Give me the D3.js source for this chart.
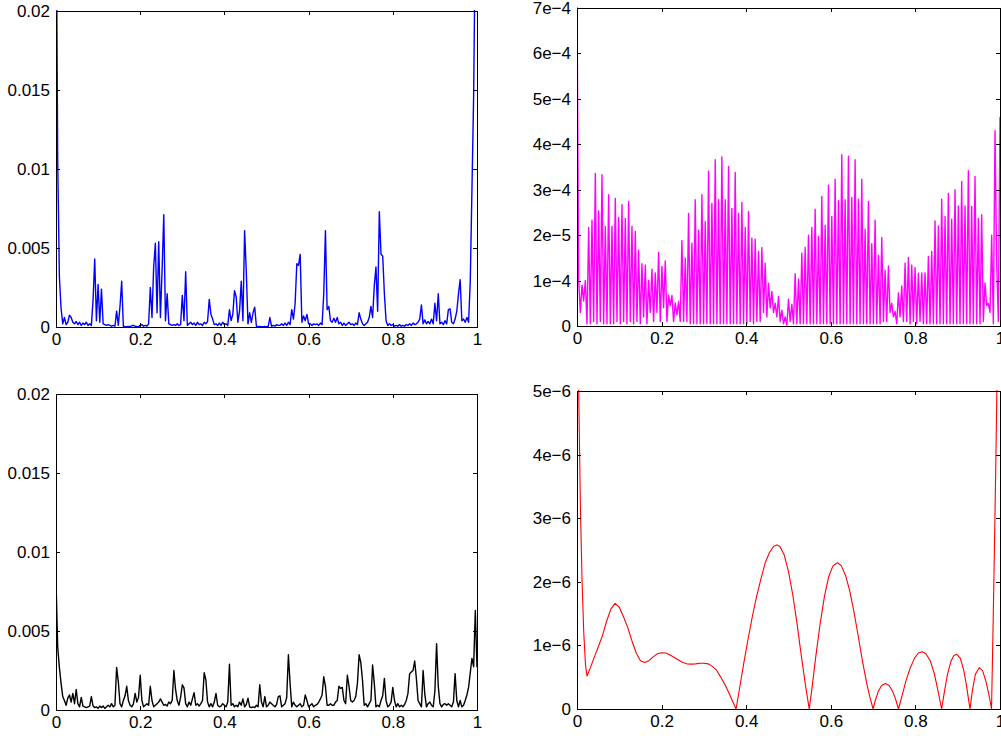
<!DOCTYPE html>
<html>
<head>
<meta charset="utf-8">
<script src="https://cdn.jsdelivr.net/npm/d3@7"></script>
<style>
  html, body { margin: 0; padding: 0; background: #fff; }
  svg { display: block; }
</style>
</head>
<body>
<svg id="fig" width="1001" height="736"></svg>
<script>
// ---- data ----
const xTickValues = [0, 0.2, 0.4, 0.6, 0.8, 1];
const xTickLabels = ["0", "0.2", "0.4", "0.6", "0.8", "1"];

const blueTickValues = [0, 0.005, 0.01, 0.015, 0.02];
const blueTickLabels = ["0", "0.005", "0.01", "0.015", "0.02"];
const blackTickValues = [0, 0.005, 0.01, 0.015, 0.02];
const blackTickLabels = ["0", "0.005", "0.01", "0.015", "0.02"];
const magentaTickValues = [0, 1e-4, 2e-4, 3e-4, 4e-4, 5e-4, 6e-4, 7e-4];
const magentaTickLabels = ["0", "1e\u22124", "2e\u22125", "3e\u22124", "4e\u22124", "5e\u22124", "6e\u22124", "7e\u22124"];
const redTickValues = [0, 1e-6, 2e-6, 3e-6, 4e-6, 5e-6];
const redTickLabels = ["0", "1e\u22126", "2e\u22126", "3e\u22126", "4e\u22126", "5e\u22126"];

// top-left, units of 1e-3, evenly spaced on [0, 1]
const blueVals = [
  30, 10.6, 3.2, 1.2, 0.2, 0.6, 0.15, 0.3, 0.75, 0.6,
  0.3, 0.2, 0.35, 0.15, 0.3, 0.1, 0.25, 0.15, 0.3, 0.1,
  0.2, 0.1, 1.7, 4.3, 0.4, 2.7, 0.3, 2.4, 0.2, 0.15,
  0.1, 0.15, 0.1, 0.05, 0.1, 0.05, 1.0, 0.1, 1.3, 2.9,
  0.05, 0.03, 0.02, 0.03, 0.02, 0.08, 0.1, 0.05, 0.03, 0.02,
  0.1, 0.15, 0.05, 0.1, 0.05, 0.2, 2.5, 0.6, 3.8, 5.3,
  0.9, 5.4, 0.6, 3.6, 7.1, 0.4, 2.1, 0.2, 0.15, 0.1,
  0.15, 0.1, 0.2, 0.1, 0.15, 2.0, 0.4, 3.5, 0.1, 0.2,
  0.3, 0.15, 0.25, 0.1, 0.3, 0.15, 0.2, 0.1, 0.3, 0.2,
  0.35, 1.75, 0.8, 0.5, 0.15, 0.2, 0.1, 0.25, 0.1, 0.3,
  0.15, 0.2, 0.1, 1.1, 0.4, 0.8, 2.3, 1.9, 0.3, 1.0,
  2.9, 0.4, 6.1, 3.5, 0.2, 0.9, 0.3, 0.9, 1.25, 0.05,
  0.02, 0.03, 0.02, 0.02, 0.03, 0.02, 0.03, 0.6, 0.05, 0.1,
  0.05, 0.15, 0.1, 0.1, 0.2, 0.1, 0.25, 0.1, 0.3, 0.15,
  1.1, 0.5, 1.5, 4.0, 3.9, 4.6, 0.3, 0.7, 0.4, 0.8,
  0.2, 0.2, 0.1, 0.2, 0.15, 0.2, 0.1, 0.25, 0.15, 2.1,
  6.1, 1.1, 1.3, 0.4, 0.3, 0.55, 0.3, 0.6, 0.2, 0.3,
  0.1, 0.25, 0.1, 0.2, 0.3, 0.15, 0.2, 0.1, 0.25, 0.15,
  0.9, 0.5, 0.2, 0.1, 0.2, 0.3, 0.6, 1.3, 0.6, 2.6,
  3.8, 1.0, 7.3, 4.6, 4.5, 2.1, 0.4, 0.1, 0.2, 0.1,
  0.15, 0.05, 0.1, 0.05, 0.15, 0.05, 0.1, 0.05, 0.15, 0.1,
  0.2, 0.1, 0.25, 0.15, 0.2, 0.3, 0.5, 1.4, 0.2, 0.45,
  0.2, 0.35, 0.2, 0.5, 0.2, 1.5, 0.4, 2.1, 0.2, 0.3,
  0.15, 0.4, 0.2, 1.1, 1.15, 0.3, 0.2, 0.5, 1.0, 2.1,
  3.0, 0.4, 0.5, 0.3, 0.6, 0.3, 2.9, 8.7, 14.6, 25,
  30
];

// top-right, units of 1e-4, evenly spaced on [0, 1]
const magentaVals = [
  7.2, 1.0, 0.3, 0.9, 0.55, 1.0, 0.05, 2.17, 0.05, 2.33,
  0.1, 3.36, 0.05, 2.53, 0.1, 3.33, 0.05, 2.19, 0.05, 2.89,
  0.05, 2.19, 0.05, 2.81, 0.1, 2.39, 0.05, 2.67, 0.1, 2.37,
  0.05, 2.74, 0.1, 2.19, 0.05, 2.08, 0.1, 1.67, 0.05, 1.37,
  0.2, 1.34, 0.05, 1.0, 0.3, 1.25, 0.1, 1.17, 0.3, 1.62,
  0.1, 1.31, 0.4, 1.43, 0.1, 0.68, 0.45, 0.67, 0.1, 0.51,
  0.25, 0.54, 0.1, 1.88, 0.1, 1.49, 0.1, 2.48, 0.05, 1.82,
  0.05, 2.78, 0.05, 2.11, 0.05, 2.89, 0.05, 2.3, 0.05, 3.41,
  0.05, 2.7, 0.05, 3.66, 0.05, 2.78, 0.05, 3.72, 0.05, 2.78,
  0.05, 3.51, 0.05, 2.59, 0.05, 3.38, 0.05, 2.48, 0.05, 2.72,
  0.05, 2.17, 0.05, 2.52, 0.1, 1.93, 0.05, 1.91, 0.1, 1.64,
  0.1, 1.73, 0.3, 1.38, 0.2, 0.94, 0.4, 0.76, 0.3, 0.5,
  0.2, 0.65, 0.1, 0.35, 0.05, 0.2, 0.02, 0.59, 0.1, 0.48,
  0.05, 1.15, 0.05, 1.03, 0.05, 1.6, 0.05, 1.73, 0.05, 2.0,
  0.05, 2.17, 0.05, 2.57, 0.05, 1.97, 0.05, 2.85, 0.05, 2.22,
  0.05, 3.1, 0.05, 2.41, 0.05, 3.23, 0.05, 2.76, 0.05, 3.77,
  0.05, 2.78, 0.05, 3.74, 0.05, 2.83, 0.05, 3.66, 0.05, 2.79,
  0.05, 3.23, 0.05, 2.13, 0.05, 2.74, 0.05, 1.81, 0.05, 2.33,
  0.05, 1.56, 0.05, 1.95, 0.1, 1.23, 0.1, 1.32, 0.3, 0.5,
  0.2, 0.32, 0.05, 0.73, 0.2, 0.88, 0.1, 1.38, 0.1, 1.51,
  0.05, 1.34, 0.1, 1.29, 0.05, 1.16, 0.1, 1.17, 0.05, 1.17,
  0.05, 1.53, 0.05, 1.64, 0.05, 2.31, 0.05, 2.2, 0.05, 2.79,
  0.05, 2.41, 0.05, 2.92, 0.05, 2.35, 0.05, 3.0, 0.05, 2.64,
  0.05, 3.18, 0.05, 2.64, 0.05, 3.42, 0.05, 2.63, 0.05, 3.29,
  0.05, 2.37, 0.05, 2.45, 0.1, 0.95, 0.45, 0.5, 0.3, 2.0,
  0.05, 4.3, 1.4, 0.1, 4.6
];

// bottom-left, units of 1e-3, evenly spaced on [0, 1]
const blackVals = [
  8.2, 4.0, 2.7, 1.7, 0.85, 0.6, 0.3, 0.75, 0.95, 0.5,
  1.05, 0.4, 1.3, 0.4, 0.2, 0.8, 0.25, 0.2, 0.15, 0.2,
  0.25, 0.85, 0.25, 0.15, 0.2, 0.1, 0.25, 0.15, 0.25, 0.1,
  0.2, 0.3, 0.2, 0.4, 0.2, 0.3, 2.7, 1.8, 0.4, 0.2,
  0.6, 0.9, 1.5, 0.6, 0.3, 0.2, 0.4, 1.05, 0.5, 0.8,
  2.2, 0.6, 0.2, 0.3, 0.4, 0.3, 1.5, 0.6, 0.2, 0.3,
  0.4, 0.5, 0.7, 0.5, 0.3, 0.35, 0.25, 0.5, 0.4, 0.6,
  2.5, 1.3, 0.6, 0.3, 0.8, 1.6, 1.4, 0.4, 0.2, 0.5,
  0.3, 0.7, 1.1, 0.3, 0.4, 0.25, 0.4, 0.6, 2.36, 1.9,
  0.5, 0.2, 0.4, 0.2, 0.5, 1.05, 0.3, 0.2, 0.25, 0.4,
  0.3, 0.2, 0.5, 2.9, 0.3, 0.4, 0.2, 0.3, 0.2, 0.5,
  0.3, 0.7, 0.2, 0.35, 0.75, 0.2, 0.15, 0.2, 0.15, 0.3,
  0.2, 1.6, 0.5, 0.2, 0.85, 0.2, 0.3, 0.5, 0.4, 0.3,
  0.2, 0.35, 0.85, 0.9, 0.2, 0.3, 0.4, 0.8, 3.5, 1.7,
  0.2, 0.5, 0.3, 0.2, 0.3, 0.4, 0.2, 0.3, 0.95, 0.6,
  0.2, 0.3, 0.4, 0.2, 0.3, 0.35, 0.5, 0.7, 0.95, 2.1,
  1.5, 0.3, 0.3, 0.4, 0.3, 0.3, 0.5, 0.6, 1.5, 1.37,
  1.43, 0.6, 0.4, 2.2, 1.5, 0.6, 0.5, 0.6, 0.85, 1.7,
  3.5, 3.0, 1.9, 0.3, 0.4, 0.2, 0.4, 0.6, 2.85, 1.7,
  0.2, 0.3, 0.2, 0.6, 0.9, 2.0, 0.6, 0.2, 0.3, 0.5,
  1.43, 0.6, 0.2, 0.4, 0.2, 0.3, 0.2, 0.35, 0.6, 1.05,
  2.3, 2.4, 2.5, 3.1, 2.0, 0.6, 0.4, 0.2, 2.5, 1.0,
  0.2, 0.4, 0.5, 0.3, 0.2, 1.2, 4.2, 1.5, 0.4, 0.2,
  0.35, 0.4, 0.3, 0.4, 0.3, 0.2, 0.5, 2.3, 0.6, 0.2,
  0.6, 0.2, 0.3, 0.6, 0.95, 1.43, 2.36, 3.27, 2.74, 6.3,
  2.7
];

// bottom-right, units of 1e-6
const redX = [
  0, 0.004, 0.008, 0.012, 0.016, 0.02, 0.0236, 0.03, 0.04, 0.05,
  0.06, 0.07, 0.08, 0.09, 0.1, 0.11, 0.12, 0.13, 0.14, 0.15,
  0.16, 0.17, 0.18, 0.19, 0.2, 0.21, 0.22, 0.23, 0.24, 0.25,
  0.26, 0.27, 0.28, 0.29, 0.3, 0.31, 0.32, 0.33, 0.34, 0.35,
  0.36, 0.37, 0.376,
  0.385, 0.395, 0.405, 0.415, 0.425, 0.435, 0.445, 0.455, 0.465, 0.473,
  0.48, 0.49, 0.5, 0.51, 0.52, 0.53, 0.54, 0.549,
  0.555, 0.565, 0.575, 0.585, 0.595, 0.605, 0.616, 0.625, 0.635, 0.645,
  0.655, 0.665, 0.675, 0.685, 0.692, 0.7,
  0.705, 0.712, 0.72, 0.729, 0.738, 0.746, 0.753, 0.76,
  0.768, 0.778, 0.788, 0.798, 0.807, 0.816, 0.825, 0.835, 0.845, 0.853, 0.862,
  0.868, 0.876, 0.884, 0.891, 0.898, 0.906, 0.914, 0.921, 0.929,
  0.935, 0.942, 0.951, 0.959, 0.967, 0.974, 0.98,
  0.985, 0.99, 0.993, 1.0
];
const redY = [
  7.0, 5.0, 3.2, 2.0, 1.2, 0.7, 0.52, 0.62, 0.8, 0.97,
  1.15, 1.38, 1.57, 1.66, 1.6, 1.45, 1.28, 1.07, 0.88, 0.76,
  0.73, 0.76, 0.82, 0.87, 0.885, 0.88, 0.85, 0.81, 0.77, 0.73,
  0.71, 0.705, 0.71, 0.72, 0.72, 0.71, 0.67, 0.61, 0.5, 0.38,
  0.24, 0.09, 0,
  0.35, 0.75, 1.12, 1.47, 1.78, 2.05, 2.3, 2.46, 2.56, 2.58,
  2.55, 2.42, 2.16, 1.8, 1.35, 0.85, 0.38, 0,
  0.3, 0.85, 1.35, 1.77, 2.08, 2.25, 2.3, 2.25, 2.1, 1.85,
  1.52, 1.14, 0.75, 0.4, 0.2, 0,
  0.13, 0.27, 0.37, 0.4, 0.37, 0.28, 0.16, 0,
  0.2, 0.45, 0.65, 0.8, 0.88, 0.9, 0.87, 0.76, 0.55, 0.3, 0,
  0.25, 0.55, 0.75, 0.84, 0.86, 0.8, 0.62, 0.36, 0,
  0.3, 0.55, 0.65, 0.6, 0.43, 0.22, 0,
  1.8, 3.8, 5.2, 8.0
];

// ---- drawing ----
const svg = d3.select("#fig");
const fontFamily = '"Liberation Sans", Arial, Helvetica, sans-serif';

const even = (vals, unit) => vals.map((v, i) => [i / (vals.length - 1), v * unit]);

const panels = [
  { box: { l: 56, t: 11, r: 477, b: 327 }, yMax: 0.02, ticks: blueTickValues, labels: blueTickLabels,
    color: "#0000ff", lw: 1.4, data: even(blueVals, 1e-3) },
  { box: { l: 577, t: 8, r: 1000, b: 326 }, yMax: 7e-4, ticks: magentaTickValues, labels: magentaTickLabels,
    color: "#ff00ff", lw: 1.4, data: even(magentaVals, 1e-4) },
  { box: { l: 56, t: 394, r: 477, b: 710 }, yMax: 0.02, ticks: blackTickValues, labels: blackTickLabels,
    color: "#000000", lw: 1.4, data: even(blackVals, 1e-3) },
  { box: { l: 577, t: 391, r: 1000, b: 709 }, yMax: 5e-6, ticks: redTickValues, labels: redTickLabels,
    color: "#ff0000", lw: 1.1, data: redX.map((d, i) => [d, redY[i] * 1e-6]) }
];

const tickLen = 4;

panels.forEach((p, k) => {
  const b = p.box;
  const x = d3.scaleLinear().domain([0, 1]).range([b.l, b.r]);
  const y = d3.scaleLinear().domain([0, p.yMax]).range([b.b, b.t]);

  const clipId = "clip" + k;
  svg.append("clipPath").attr("id", clipId).append("rect")
    .attr("x", b.l).attr("y", b.t - 1)
    .attr("width", b.r - b.l + 1).attr("height", b.b - b.t + 2);

  svg.append("path")
    .datum(p.data)
    .attr("clip-path", `url(#${clipId})`)
    .attr("fill", "none")
    .attr("stroke", p.color)
    .attr("stroke-width", p.lw)
    .attr("stroke-linejoin", "round")
    .attr("d", d3.line().x(d => x(d[0])).y(d => y(d[1])));

  // box with inward ticks on all four sides, labels only bottom and left
  const axes = [
    { ax: d3.axisBottom(x).tickValues(xTickValues).tickFormat((d, i) => xTickLabels[i]), pos: `translate(0,${b.b})` },
    { ax: d3.axisTop(x).tickValues(xTickValues).tickFormat(() => ""), pos: `translate(0,${b.t})` },
    { ax: d3.axisLeft(y).tickValues(p.ticks).tickFormat((d, i) => p.labels[i]), pos: `translate(${b.l},0)` },
    { ax: d3.axisRight(y).tickValues(p.ticks).tickFormat(() => ""), pos: `translate(${b.r},0)` }
  ];
  axes.forEach(a => {
    const g = svg.append("g")
      .attr("transform", a.pos)
      .call(a.ax.tickSizeInner(-tickLen).tickSizeOuter(0).tickPadding(6));
    g.attr("font-size", 17).attr("font-family", fontFamily);
    g.selectAll("text").attr("fill", "#000");
    g.selectAll("line, path").attr("stroke", "#000").attr("shape-rendering", "crispEdges");
  });
});
</script>
</body>
</html>
